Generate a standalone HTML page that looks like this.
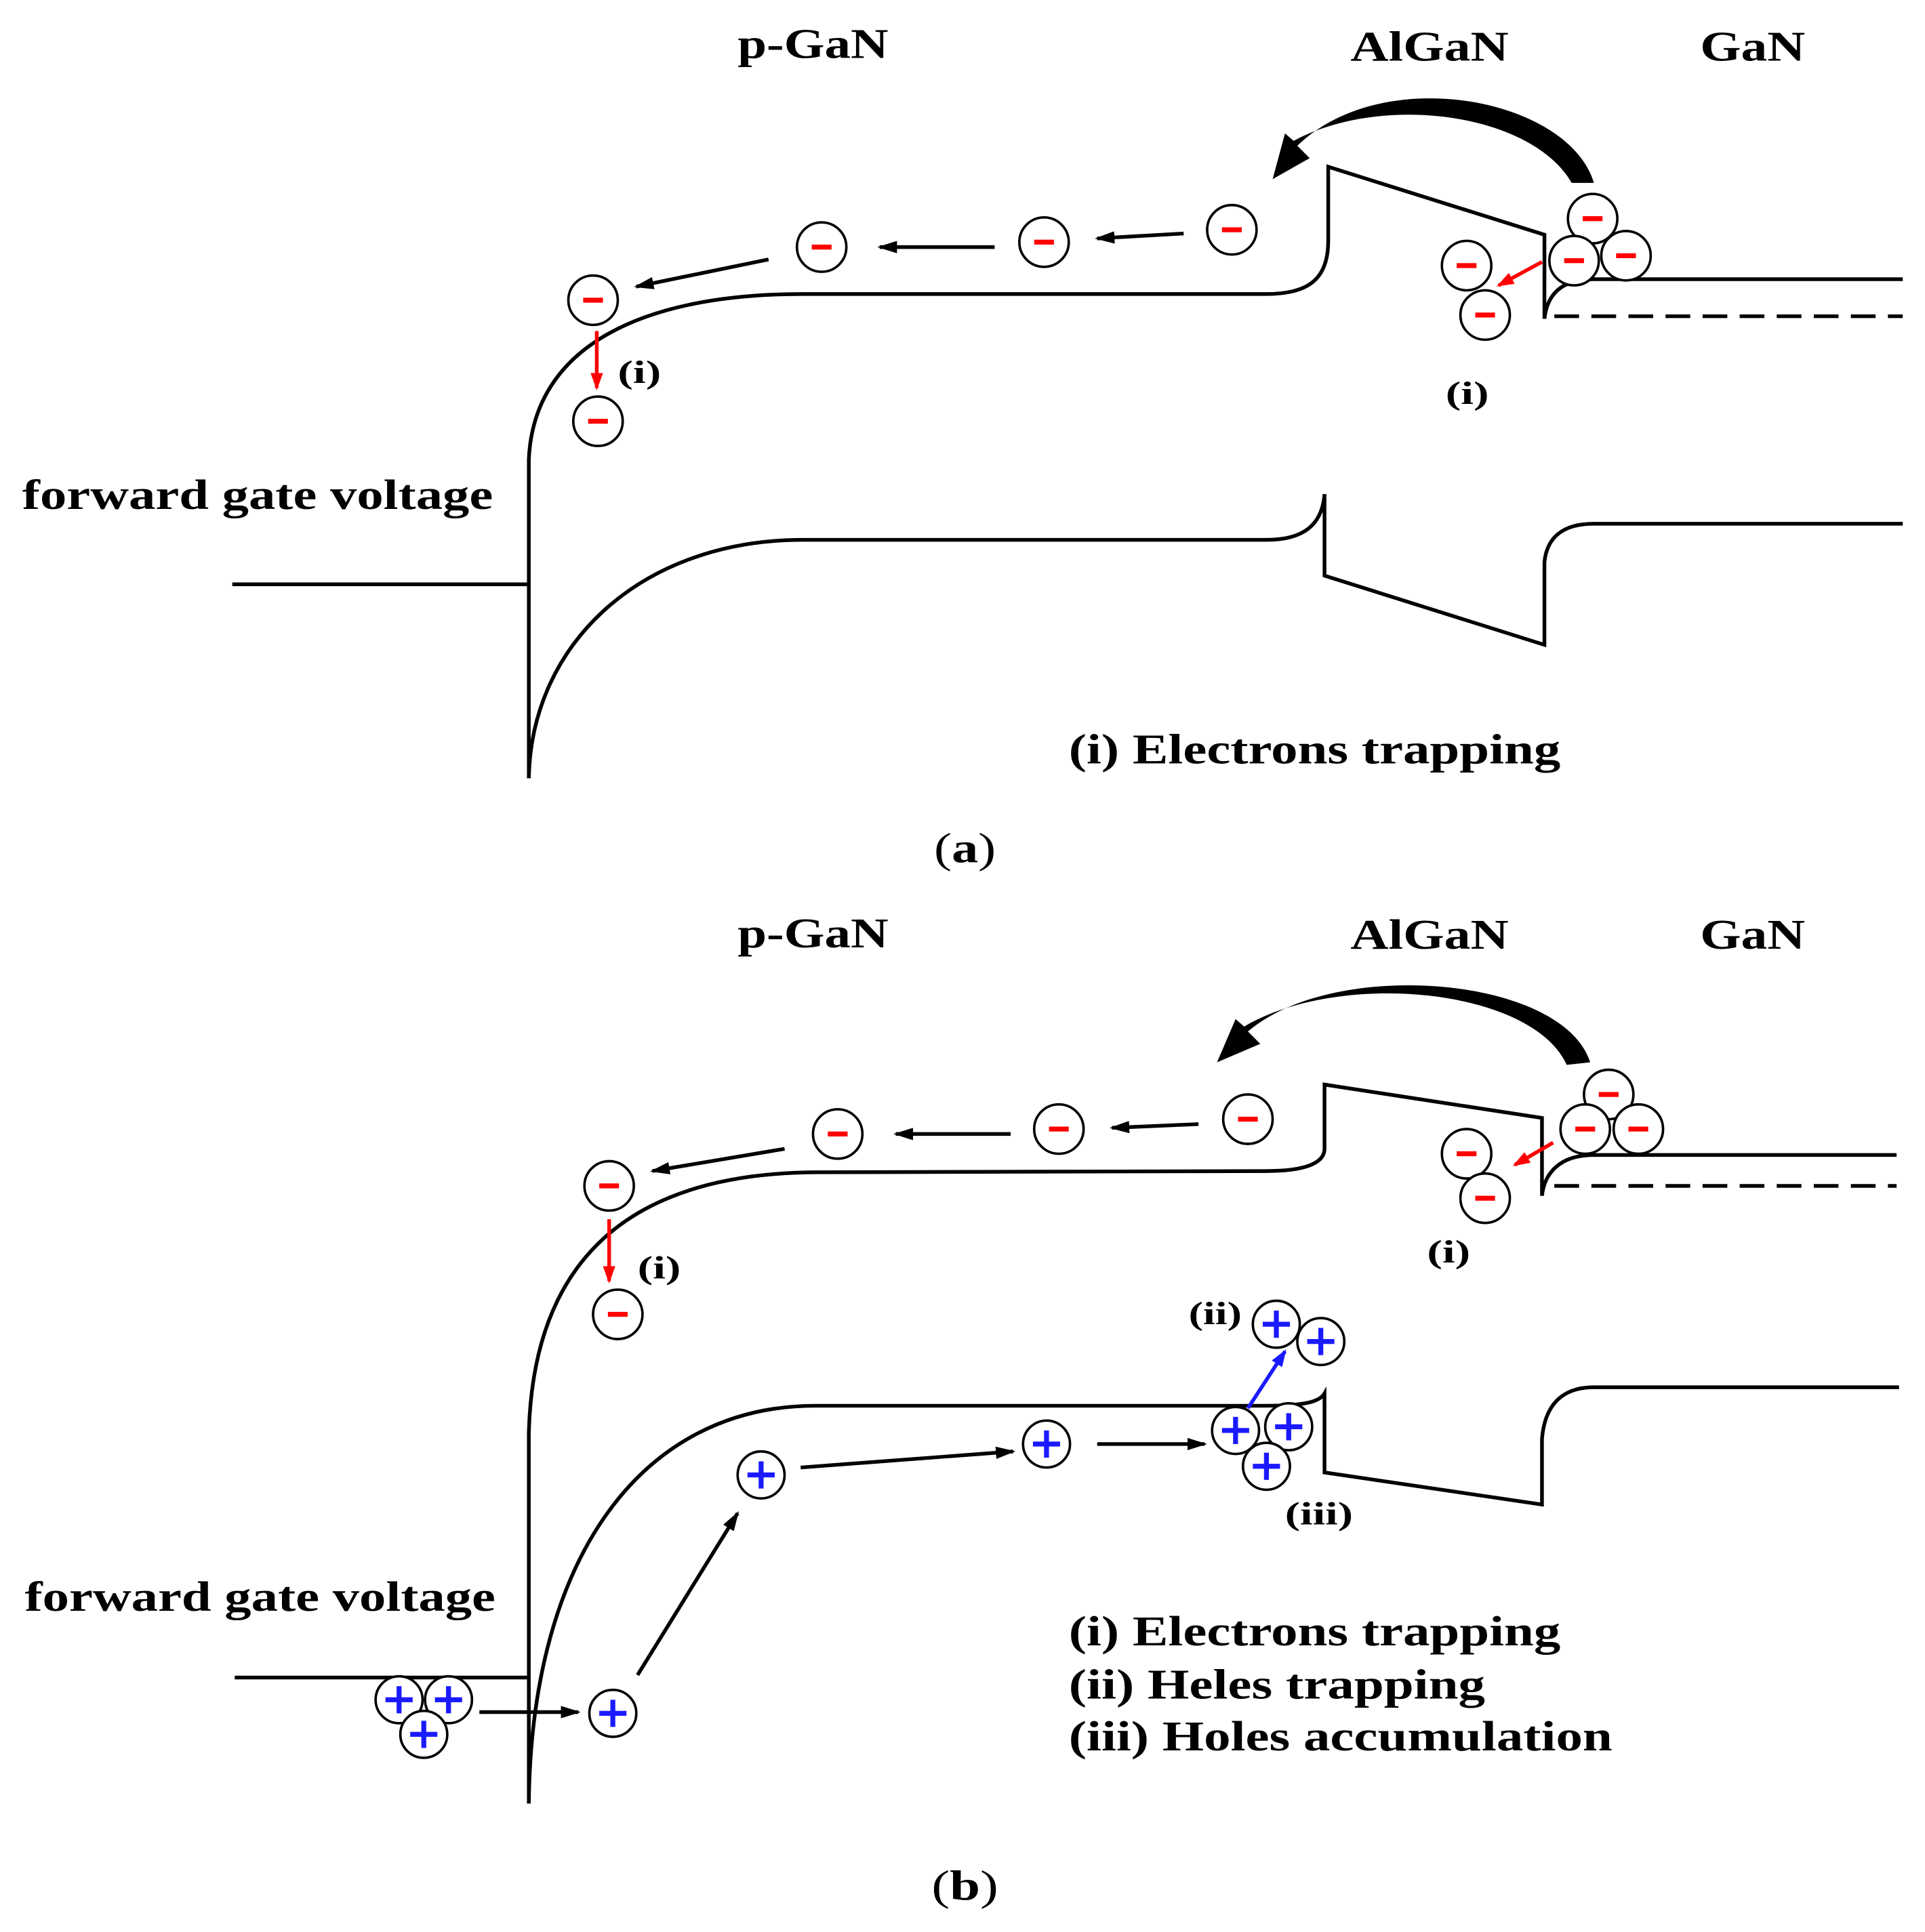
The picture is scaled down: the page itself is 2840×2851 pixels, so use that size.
<!DOCTYPE html>
<html><head><meta charset="utf-8"><style>html,body{margin:0;padding:0;background:#fff}svg{display:block}</style></head>
<body>
<svg width="2840" height="2851" viewBox="0 0 1558 1564" xmlns="http://www.w3.org/2000/svg">
<defs>
<marker id="ab" markerWidth="16" markerHeight="10" refX="14" refY="5" orient="auto" markerUnits="userSpaceOnUse"><path d="M0,0 L16,5 L0,10 Z" fill="#000"/></marker>
<marker id="ar" markerWidth="14" markerHeight="10" refX="12" refY="5" orient="auto" markerUnits="userSpaceOnUse"><path d="M0,0 L14,5 L0,10 Z" fill="#f00"/></marker>
<marker id="abl" markerWidth="14" markerHeight="10" refX="12" refY="5" orient="auto" markerUnits="userSpaceOnUse"><path d="M0,0 L14,5 L0,10 Z" fill="#1a1aff"/></marker>
<g id="e"><circle r="20" fill="#fff" stroke="#000" stroke-width="2"/><rect x="-8" y="-2" width="16" height="4" fill="#f00"/></g>
<g id="h"><circle r="19" fill="#fff" stroke="#000" stroke-width="2"/><rect x="-11" y="-2" width="22" height="4" fill="#1a1aff"/><rect x="-2" y="-11" width="4" height="22" fill="#1a1aff"/></g>
</defs>
<style>
.t{font-family:"Liberation Serif",serif;font-weight:bold;font-size:34px;fill:#000}
.s{font-family:"Liberation Serif",serif;font-weight:bold;font-size:26px;fill:#000}
.l{fill:none;stroke:#000;stroke-width:3}
</style>
<!-- Panel a -->
<text class="t" x="597" y="47" textLength="122" lengthAdjust="spacingAndGlyphs">p-GaN</text>
<text class="t" x="1093" y="49" textLength="128" lengthAdjust="spacingAndGlyphs">AlGaN</text>
<text class="t" x="1376" y="49" textLength="85" lengthAdjust="spacingAndGlyphs">GaN</text>
<path class="l" d="M428,630 L428,372 C432,280 520,238 650,238 L1025,238 C1060,238 1075,225 1075,195 L1075,135 L1250,190 L1250,258 C1252,240 1262,226 1290,226 L1540,226"/>
<line x1="1258" y1="256" x2="1540" y2="256" stroke="#000" stroke-width="3" stroke-dasharray="20,10"/>
<path class="l" d="M188,473 L428,473 M428,630 C430,520 520,437 650,437 L1025,437 C1055,437 1070,425 1072,400 L1072,466 L1250,522 L1250,455 C1252,435 1265,424 1290,424 L1540,424"/>
<path d="M1290,148 C1270,80 1120,50 1050,118 L1060,128 L1030,145 L1040,108 L1047,114 C1120,75 1240,92 1272,148 Z" fill="#000"/>
<use href="#e" x="480" y="243"/><use href="#e" x="484" y="341"/><use href="#e" x="665" y="200"/><use href="#e" x="845" y="196"/><use href="#e" x="997" y="186"/><use href="#e" x="1187" y="215"/><use href="#e" x="1202" y="255"/><use href="#e" x="1289" y="177"/><use href="#e" x="1274" y="211"/><use href="#e" x="1316" y="207"/>
<line x1="622" y1="210" x2="515" y2="232" stroke="#000" stroke-width="3" marker-end="url(#ab)"/>
<line x1="805" y1="200" x2="712" y2="200" stroke="#000" stroke-width="3" marker-end="url(#ab)"/>
<line x1="958" y1="189" x2="888" y2="193" stroke="#000" stroke-width="3" marker-end="url(#ab)"/>
<line x1="483" y1="268" x2="483" y2="314" stroke="#f00" stroke-width="3" marker-end="url(#ar)"/>
<line x1="1248" y1="212" x2="1213" y2="231" stroke="#f00" stroke-width="3" marker-end="url(#ar)"/>
<text class="s" x="500" y="310" textLength="35" lengthAdjust="spacingAndGlyphs">(i)</text>
<text class="s" x="1170" y="327" textLength="35" lengthAdjust="spacingAndGlyphs">(i)</text>
<text class="t" x="18" y="412" textLength="381" lengthAdjust="spacingAndGlyphs">forward gate voltage</text>
<text class="t" x="865" y="618" textLength="398" lengthAdjust="spacingAndGlyphs">(i) Electrons trapping</text>
<text class="t" x="756" y="698" textLength="50" lengthAdjust="spacingAndGlyphs" style="font-weight:normal">(<tspan font-weight="bold">a</tspan>)</text>
<!-- Panel b -->
<text class="t" x="597" y="767" textLength="122" lengthAdjust="spacingAndGlyphs">p-GaN</text>
<text class="t" x="1093" y="768" textLength="128" lengthAdjust="spacingAndGlyphs">AlGaN</text>
<text class="t" x="1376" y="768" textLength="85" lengthAdjust="spacingAndGlyphs">GaN</text>
<path class="l" d="M428,1460 L428,1160 C432,1010 520,950 660,949 L1025,948 C1060,948 1072,940 1072,930 L1072,878 L1248,905 L1248,968 C1250,950 1262,935 1290,935 L1535,935"/>
<line x1="1258" y1="960" x2="1535" y2="960" stroke="#000" stroke-width="3" stroke-dasharray="20,10"/>
<path class="l" d="M190,1358 L428,1358 M428,1460 C430,1260 520,1138 660,1138 L1025,1138 C1055,1138 1068,1135 1072,1128 L1072,1192 L1248,1218 L1248,1165 C1250,1140 1262,1123 1290,1123 L1537,1123"/>
<path d="M1287,860 C1265,790 1080,775 1010,835 L1020,845 L985,860 L1000,825 L1007,831 C1085,785 1240,800 1268,862 Z" fill="#000"/>
<use href="#e" x="493" y="960"/><use href="#e" x="500" y="1064"/><use href="#e" x="678" y="918"/><use href="#e" x="857" y="914"/><use href="#e" x="1010" y="906"/><use href="#e" x="1187" y="934"/><use href="#e" x="1202" y="970"/><use href="#e" x="1302" y="886"/><use href="#e" x="1283" y="914"/><use href="#e" x="1326" y="914"/>
<use href="#h" x="323" y="1376"/><use href="#h" x="363" y="1376"/><use href="#h" x="343" y="1404"/><use href="#h" x="496" y="1387"/><use href="#h" x="616" y="1194"/><use href="#h" x="847" y="1169"/><use href="#h" x="1000" y="1158"/><use href="#h" x="1043" y="1155"/><use href="#h" x="1025" y="1187"/><use href="#h" x="1033" y="1072"/><use href="#h" x="1069" y="1086"/>
<line x1="388" y1="1386" x2="468" y2="1386" stroke="#000" stroke-width="3" marker-end="url(#ab)"/>
<line x1="516" y1="1356" x2="597" y2="1225" stroke="#000" stroke-width="3" marker-end="url(#ab)"/>
<line x1="648" y1="1188" x2="820" y2="1175" stroke="#000" stroke-width="3" marker-end="url(#ab)"/>
<line x1="888" y1="1169" x2="975" y2="1169" stroke="#000" stroke-width="3" marker-end="url(#ab)"/>
<line x1="635" y1="930" x2="528" y2="948" stroke="#000" stroke-width="3" marker-end="url(#ab)"/>
<line x1="818" y1="918" x2="725" y2="918" stroke="#000" stroke-width="3" marker-end="url(#ab)"/>
<line x1="970" y1="910" x2="900" y2="913" stroke="#000" stroke-width="3" marker-end="url(#ab)"/>
<line x1="493" y1="987" x2="493" y2="1037" stroke="#f00" stroke-width="3" marker-end="url(#ar)"/>
<line x1="1257" y1="925" x2="1226" y2="943" stroke="#f00" stroke-width="3" marker-end="url(#ar)"/>
<line x1="1010" y1="1140" x2="1040" y2="1094" stroke="#1a1aff" stroke-width="3" marker-end="url(#abl)"/>
<text class="s" x="516" y="1035" textLength="35" lengthAdjust="spacingAndGlyphs">(i)</text>
<text class="s" x="1155" y="1022" textLength="35" lengthAdjust="spacingAndGlyphs">(i)</text>
<text class="s" x="962" y="1072" textLength="43" lengthAdjust="spacingAndGlyphs">(ii)</text>
<text class="s" x="1040" y="1234" textLength="55" lengthAdjust="spacingAndGlyphs">(iii)</text>
<text class="t" x="20" y="1304" textLength="381" lengthAdjust="spacingAndGlyphs">forward gate voltage</text>
<text class="t" x="865" y="1332" textLength="398" lengthAdjust="spacingAndGlyphs">(i) Electrons trapping</text>
<text class="t" x="865" y="1375" textLength="337" lengthAdjust="spacingAndGlyphs">(ii) Heles trapping</text>
<text class="t" x="865" y="1417" textLength="440" lengthAdjust="spacingAndGlyphs">(iii) Holes accumulation</text>
<text class="t" x="754" y="1538" textLength="54" lengthAdjust="spacingAndGlyphs" style="font-weight:normal">(<tspan font-weight="bold">b</tspan>)</text>
</svg>
</body></html>
